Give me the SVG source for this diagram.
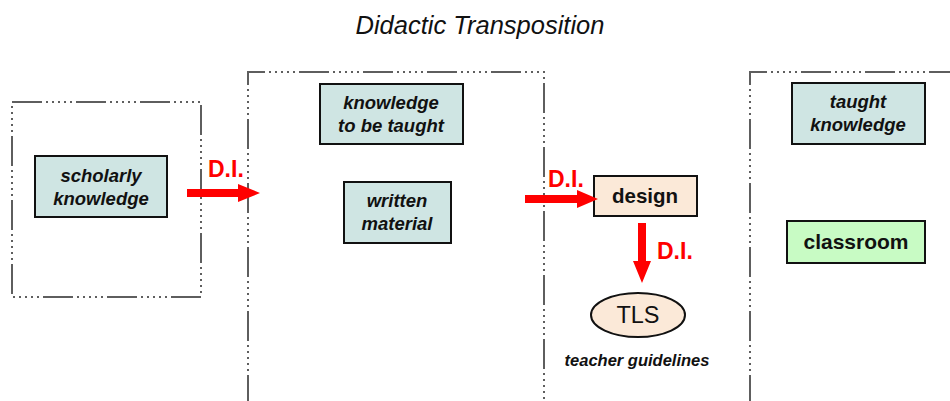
<svg xmlns="http://www.w3.org/2000/svg" width="950" height="401" viewBox="0 0 950 401">
<defs>
<style>
.frame{fill:none;stroke:#5e5e5e;stroke-width:2;stroke-dasharray:30 4 2 4 2 4 2 4 2 4 2 4}
.tb{fill:#cfe5e3;stroke:#111;stroke-width:2}
.pb{fill:#fbe9d8;stroke:#111;stroke-width:2}
.gb{fill:#c8fbc4;stroke:#111;stroke-width:2}
.bi{font-family:"Liberation Sans",Arial,sans-serif;font-weight:bold;font-style:italic;font-size:18.5px;fill:#111;text-anchor:middle}
.b{font-family:"Liberation Sans",Arial,sans-serif;font-weight:bold;fill:#111;text-anchor:middle}
.di{font-family:"Liberation Sans",Arial,sans-serif;font-weight:bold;font-size:23px;fill:#ff0000}
.arr{fill:#ff0000;stroke:none}
</style>
</defs>
<rect width="950" height="401" fill="#ffffff"/>
<text x="480" y="34" font-family="'Liberation Sans',Arial,sans-serif" font-style="italic" font-size="25.5" fill="#111" text-anchor="middle">Didactic Transposition</text>
<g id="frames">
<rect class="frame" x="12" y="102" width="189" height="195"/>
<path class="frame" d="M248,405 L248,72 L544,72 L544,405"/>
<path class="frame" d="M750,405 L750,72 L955,72"/>
</g>
<g id="scholarly">
<rect class="tb" x="35" y="156" width="132" height="61"/>
<text class="bi" x="101" y="182">scholarly</text>
<text class="bi" x="101" y="205">knowledge</text>
</g>
<g id="tobetaught">
<rect class="tb" x="320" y="84" width="143" height="60"/>
<text class="bi" x="391" y="109">knowledge</text>
<text class="bi" x="391" y="132">to be taught</text>
</g>
<g id="written">
<rect class="tb" x="344" y="182" width="107" height="61"/>
<text class="bi" x="397" y="207">written</text>
<text class="bi" x="397" y="230">material</text>
</g>
<g id="design">
<rect class="pb" x="594" y="176" width="103" height="40"/>
<text class="b" x="645" y="203" font-size="20.5">design</text>
</g>
<g id="tls">
<ellipse class="pb" cx="638" cy="315" rx="47" ry="22"/>
<text x="638" y="323" font-family="'Liberation Sans',Arial,sans-serif" font-size="23.5" fill="#111" text-anchor="middle">TLS</text>
<text x="637" y="366" font-family="'Liberation Sans',Arial,sans-serif" font-weight="bold" font-style="italic" font-size="16.5" fill="#111" text-anchor="middle">teacher guidelines</text>
</g>
<g id="taught">
<rect class="tb" x="792" y="83" width="133" height="61"/>
<text class="bi" x="858" y="108">taught</text>
<text class="bi" x="858" y="131">knowledge</text>
</g>
<g id="classroom">
<rect class="gb" x="787" y="221" width="138" height="42"/>
<text class="b" x="856" y="249" font-size="21">classroom</text>
</g>
<g id="connectors">
<polygon class="arr" points="187,189 238,189 238,184 260,193 238,202 238,197 187,197"/>
<text class="di" x="208" y="177">D.I.</text>
<polygon class="arr" points="525,195 577,195 577,190 598,199 577,208 577,203 525,203"/>
<text class="di" x="548" y="187">D.I.</text>
<polygon class="arr" points="638,223 646,223 646,261 651,261 642,283 633,261 638,261"/>
<text class="di" x="657" y="259">D.I.</text>
</g>
</svg>
